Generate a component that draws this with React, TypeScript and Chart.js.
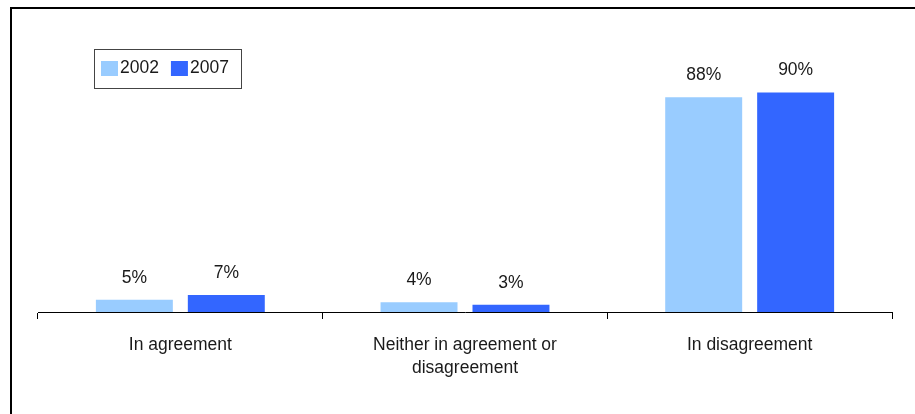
import React, { useEffect, useRef } from "react";
import { Chart, registerables } from "chart.js";

Chart.register(...registerables);

// Survey answers, share of respondents in percent
const categories: (string | string[])[] = [
  "In agreement",
  ["Neither in agreement or", "disagreement"],
  "In disagreement",
];
const seriesLabels = ["2002", "2007"];
const values2002 = [5, 4, 88];
const values2007 = [7, 3, 90];
const seriesColors = ["#99CCFF", "#3366FF"];

const FONT_FAMILY = "'Liberation Sans', Arial, sans-serif";
const TEXT_COLOR = "#1a1a1a";
const FONT_SIZE = 17.5;

// Percent labels above every bar
const valueLabels = {
  id: "valueLabels",
  afterDatasetsDraw(chart: any) {
    const ctx = chart.ctx;
    ctx.save();
    ctx.font = `${FONT_SIZE}px ${FONT_FAMILY}`;
    ctx.fillStyle = TEXT_COLOR;
    ctx.textAlign = "center";
    ctx.textBaseline = "middle";
    chart.data.datasets.forEach((ds: any, di: number) => {
      const meta = chart.getDatasetMeta(di);
      meta.data.forEach((bar: any, i: number) => {
        ctx.fillText(`${ds.data[i]}%`, bar.x, bar.y - 22);
      });
    });
    ctx.restore();
  },
};

// Boxed legend in the upper left corner
const boxedLegend = {
  id: "boxedLegend",
  afterDraw(chart: any) {
    const ctx = chart.ctx;
    const boxLeft = 94.5;
    const boxTop = 49.5;
    const boxHeight = 39;
    const swatchW = 17;
    const swatchH = 15;
    const midY = boxTop + boxHeight / 2 - 1;
    ctx.save();
    ctx.font = `${FONT_SIZE}px ${FONT_FAMILY}`;
    ctx.textBaseline = "middle";
    ctx.textAlign = "left";
    let x = 101;
    chart.data.datasets.forEach((ds: any) => {
      ctx.fillStyle = ds.backgroundColor;
      ctx.fillRect(x, 61, swatchW, swatchH);
      ctx.fillStyle = TEXT_COLOR;
      ctx.fillText(ds.label, x + swatchW + 2, midY);
      x += swatchW + 2 + ctx.measureText(ds.label).width + 12;
    });
    const boxRight = x + 1;
    ctx.strokeStyle = "#444";
    ctx.lineWidth = 1;
    ctx.strokeRect(boxLeft, boxTop, Math.round(boxRight - boxLeft), boxHeight);
    ctx.restore();
  },
};

export default function App() {
  const canvasRef = useRef<HTMLCanvasElement | null>(null);

  useEffect(() => {
    if (!canvasRef.current) return;
    const chart = new Chart(canvasRef.current, {
      type: "bar",
      data: {
        labels: categories,
        datasets: [
          {
            label: seriesLabels[0],
            data: values2002,
            backgroundColor: seriesColors[0],
            borderWidth: 0,
          },
          {
            label: seriesLabels[1],
            data: values2007,
            backgroundColor: seriesColors[1],
            borderWidth: 0,
          },
        ],
      },
      options: {
        responsive: false,
        animation: false,
        devicePixelRatio: 1,
        categoryPercentage: 0.646,
        barPercentage: 0.837,
        layout: { padding: { left: 38, right: 23, top: 68, bottom: 0 } },
        plugins: {
          legend: { display: false },
          tooltip: { enabled: false },
        },
        scales: {
          x: {
            grid: {
              offset: true,
              drawOnChartArea: false,
              drawTicks: true,
              tickLength: 7,
              color: "#000",
              lineWidth: 1,
            },
            border: { display: true, color: "#000", width: 1 },
            ticks: {
              color: TEXT_COLOR,
              font: { family: FONT_FAMILY, size: FONT_SIZE, lineHeight: 1.314 },
              padding: 15,
              maxRotation: 0,
              autoSkip: false,
            },
            afterFit: (scale: any) => {
              scale.height = 102;
            },
          },
          y: { display: false, min: 0, max: 100 },
        },
      },
      plugins: [valueLabels, boxedLegend],
    });
    return () => chart.destroy();
  }, []);

  return (
    <div
      style={{
        position: "fixed",
        left: 0,
        top: 0,
        width: 915,
        height: 414,
        background: "#fff",
      }}
    >
      <div
        style={{
          position: "absolute",
          left: 10,
          top: 7,
          right: 0,
          bottom: 0,
          borderTop: "2px solid #000",
          borderLeft: "2px solid #000",
        }}
      />
      <canvas
        ref={canvasRef}
        width={915}
        height={414}
        style={{ position: "absolute", left: 0, top: 0, display: "block" }}
      />
    </div>
  );
}
